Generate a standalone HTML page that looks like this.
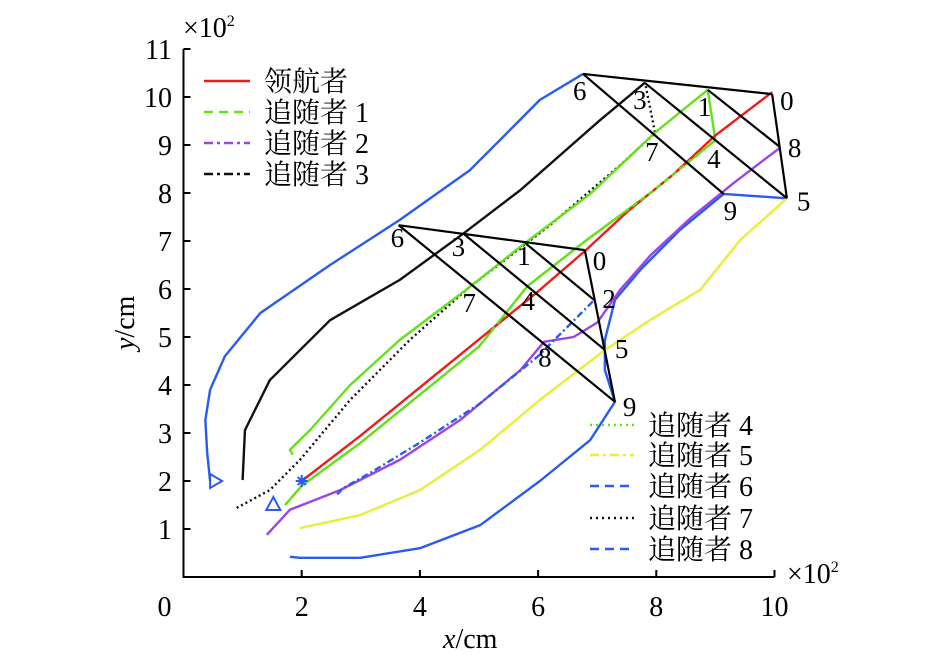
<!DOCTYPE html>
<html><head><meta charset="utf-8"><style>
html,body{margin:0;padding:0;background:#fff;}
svg{display:block;font-family:"Liberation Serif","Noto Serif CJK SC",serif;}
</style></head><body>
<svg id="chart" width="945" height="664" viewBox="0 0 945 664">
<g id="axes"></g>
<g id="series"></g>
<g id="forms"></g>
<g id="legend"></g>
</svg>
<script>
const xTicks=[0,2,4,6,8,10];
const yTicks=[1,2,3,4,5,6,7,8,9,10,11];
const leader=[[2,2],[3,2.95],[4,3.95],[5,4.95],[6,5.95],[6.8,6.8],[7.5,7.6],[8.3,8.4],[9.0,9.2],[9.96,10.1]];
const f1=[[1.85,2.55],[1.8,2.65],[2.14,3.06],[2.82,4.0],[3.66,4.94],[4.8,6.0],[5.78,6.96],[6.9,8.0],[7.97,9.25],[8.87,10.15]];
const f4=[[1.72,1.5],[2.0,1.9],[3,2.8],[4,3.8],[5,4.8],[5.82,6.06],[6.8,7.0],[7.9,8.0],[9.0,9.1],[8.87,10.15]];
const f2=[[1.41,0.88],[1.8,1.4],[2.65,1.81],[3.66,2.44],[4.68,3.27],[5.7,4.31],[6.1,4.9],[6.6,5.0],[7.0,5.3],[7.4,6.0],[7.9,6.7],[8.6,7.5],[9.3,8.2],[10.1,8.95]];
const f8=[[2.6,1.72],[2.7,1.85],[3.2,2.2],[4.0,2.8],[5.0,3.6],[6.0,4.6],[6.95,5.77]];
const f3=[[1.0,2.02],[1.04,3.06],[1.46,4.1],[2.48,5.35],[3.66,6.19],[4.73,7.15],[5.7,8.06],[7.05,9.52],[7.81,10.3]];
const f7=[[0.9,1.44],[1.46,1.81],[1.97,2.44],[2.82,3.69],[3.83,4.94],[4.82,6.02],[6.2,7.33],[7.39,8.58],[7.98,9.25],[7.81,10.3]];
const f5=[[1.97,1.02],[2.99,1.29],[4.0,1.81],[5.02,2.65],[6.03,3.69],[7.13,4.73],[7.89,5.35],[8.74,5.98],[9.42,7.02],[10.21,7.89]];
const f6=[[0.45,2.0],[0.4,2.6],[0.37,3.27],[0.45,3.9],[0.7,4.6],[1.3,5.5],[2.48,6.5],[3.66,7.44],[4.85,8.48],[6.03,9.94],[6.76,10.48]];
const f9=[[1.8,0.42],[1.97,0.4],[2.99,0.4],[4.0,0.6],[5.02,1.08],[6.03,2.0],[6.88,2.85],[7.3,3.65],[7.13,4.31],[7.13,4.94],[7.3,5.77],[7.73,6.4],[8.4,7.23],[9.14,7.98],[10.21,7.89]];
const form1Labels=["6","3","1","0","7","4","2","8","5","9"];
const form1=[[3.64,7.33],[4.74,7.15],[5.78,6.96],[6.79,6.81],[4.82,6.02],[5.82,6.06],[6.95,5.77],[6.0,4.97],[7.13,4.73],[7.3,3.65]];
const form2=[[6.76,10.48],[7.81,10.29],[8.87,10.15],[9.96,10.06],[7.98,9.25],[9.03,9.10],[10.09,8.96],[9.14,7.98],[10.21,7.89]];
const form2Labels=["6","3","1","0","7","4","8","9","5"];
const ns="http://www.w3.org/2000/svg";
const X=v=>183.5+v*59.1, Y=v=>577-v*48;
function el(t,a,p){const e=document.createElementNS(ns,t);for(const k in a)e.setAttribute(k,a[k]);p.appendChild(e);return e;}
const ax=document.getElementById('axes');
let a=el('path',{d:`M${X(0)} ${Y(11)}V${Y(0)}H${X(10)}`,fill:'none',stroke:'#000','stroke-width':2},ax);


xTicks.forEach(v=>{
 if(v>0){const t=el('line',{x1:X(v),x2:X(v),y1:Y(0),y2:Y(0)-7,stroke:'#000','stroke-width':2},ax);
 
 }
 const l=el('text',{x:X(v)-(v==0?19:0),y:616,'font-size':28,'text-anchor':'middle'},ax);l.textContent=v;
 
 
});
yTicks.forEach(v=>{
 const t=el('line',{x1:X(0),x2:X(0)+7,y1:Y(v),y2:Y(v),stroke:'#000','stroke-width':2},ax);
 
 
 const l=el('text',{x:172,y:Y(v)+10,'font-size':28,'text-anchor':'end'},ax);l.textContent=v;
 
 
});
const series=document.getElementById('series');
function line(d,c,dash,name,w){const p=el('polyline',{points:d.map(q=>X(q[0])+','+Y(q[1])).join(' '),fill:'none',stroke:c,'stroke-width':w||2.4,'stroke-dasharray':dash||'none','stroke-linejoin':'round'},series);
 
 }
line(f6,'#2a5bf0','','follower-6-path');
line(f9,'#2a5bf0','','follower-9-path');
line(f5,'#e8ee3a','','follower-5-path');
line(f2,'#9b45e6','','follower-2-path');
line(f8,'#2a5bf0','7 3 2 3','follower-8-path');
line(f3,'#111','','follower-3-path');
line(f7,'#111','2 3','follower-7-path');
line(f1,'#66e01a','','follower-1-path');
line(f4,'#66e01a','','follower-4-path');
line(leader,'#ee1c1c','','leader-path');
line(f4.slice(0,9),'#66e01a','6 4','follower-4-dash');
const fm=document.getElementById('forms');
function edges(pts,list){list.forEach(e=>{const l=el('line',{x1:X(pts[e[0]][0]),y1:Y(pts[e[0]][1]),x2:X(pts[e[1]][0]),y2:Y(pts[e[1]][1]),stroke:'#000','stroke-width':2.2},fm);
 
 });}
edges(form1,[[0,3],[3,9],[0,9],[1,8],[2,6]]);
edges(form2,[[0,3],[3,8],[0,7],[1,8],[2,6]]);
const off1=[[-8,22],[-12,22],[-8,22],[8,20],[-6,24],[-6,24],[8,8],[0,28],[10,8],[8,14]];
form1.forEach((p,i)=>{const t=el('text',{x:X(p[0])+off1[i][0],y:Y(p[1])+off1[i][1],'font-size':27},fm);t.textContent=form1Labels[i];
 
 });
const off2=[[-10,26],[-12,26],[-10,26],[8,16],[-10,28],[-10,28],[8,10],[0,26],[10,12]];
form2.forEach((p,i)=>{const t=el('text',{x:X(p[0])+off2[i][0],y:Y(p[1])+off2[i][1],'font-size':27},fm);t.textContent=form2Labels[i];
 
 });
let m=el('path',{d:`M${X(0.45)} ${Y(2)-7}L${X(0.45)+12} ${Y(2)}L${X(0.45)} ${Y(2)+7}Z`,fill:'none',stroke:'#2a5bf0','stroke-width':2},fm);


m=el('path',{d:`M${X(1.52)} ${Y(1.5)-8}L${X(1.52)+7} ${Y(1.5)+5}L${X(1.52)-7} ${Y(1.5)+5}Z`,fill:'none',stroke:'#2a5bf0','stroke-width':2},fm);


m=el('path',{d:`M${X(2)-6} ${Y(2)}H${X(2)+6}M${X(2)} ${Y(2)-6}V${Y(2)+6}M${X(2)-4} ${Y(2)-4}L${X(2)+4} ${Y(2)+4}M${X(2)+4} ${Y(2)-4}L${X(2)-4} ${Y(2)+4}`,stroke:'#2a5bf0','stroke-width':2},fm);


const lg=document.getElementById('legend');
function entry(x1,x2,y,c,dash,txt){const l=el('line',{x1:x1,x2:x2,y1:y,y2:y,stroke:c,'stroke-width':2.4,'stroke-dasharray':dash},lg);
 
 
 const t=el('text',{x:x2+14,y:y+10,'font-size':28},lg);t.textContent=txt;
 
 }
entry(204,250,81,'#ee1c1c','none','领航者');
entry(204,250,112,'#66e01a','9 6','追随者 1');
entry(204,250,143,'#9b45e6','9 4 3 4','追随者 2');
entry(204,250,174,'#111','9 4 3 4','追随者 3');
entry(590,634,425,'#66e01a','2 4','追随者 4');
entry(590,634,455,'#e8ee3a','9 4 3 4','追随者 5');
entry(590,634,486,'#2a5bf0','9 6','追随者 6');
entry(590,634,518,'#111','2 4','追随者 7');
entry(590,634,549,'#2a5bf0','9 6','追随者 8');
function txt(x,y,s,name,extra){const t=el('text',Object.assign({x:x,y:y,'font-size':28},extra||{}),ax);t.innerHTML=s;
 
 }
txt(183,37,'×10<tspan font-size="16" dy="-11">2</tspan>','y-axis-multiplier');
txt(787,583,'×10<tspan font-size="16" dy="-11">2</tspan>','x-axis-multiplier');
txt(443,648,'<tspan font-style="italic">x</tspan>/cm','x-axis-title');
txt(0,0,'<tspan font-style="italic">y</tspan>/cm','y-axis-title',{transform:'translate(134,350) rotate(-90)'});
</script>
</body></html>
